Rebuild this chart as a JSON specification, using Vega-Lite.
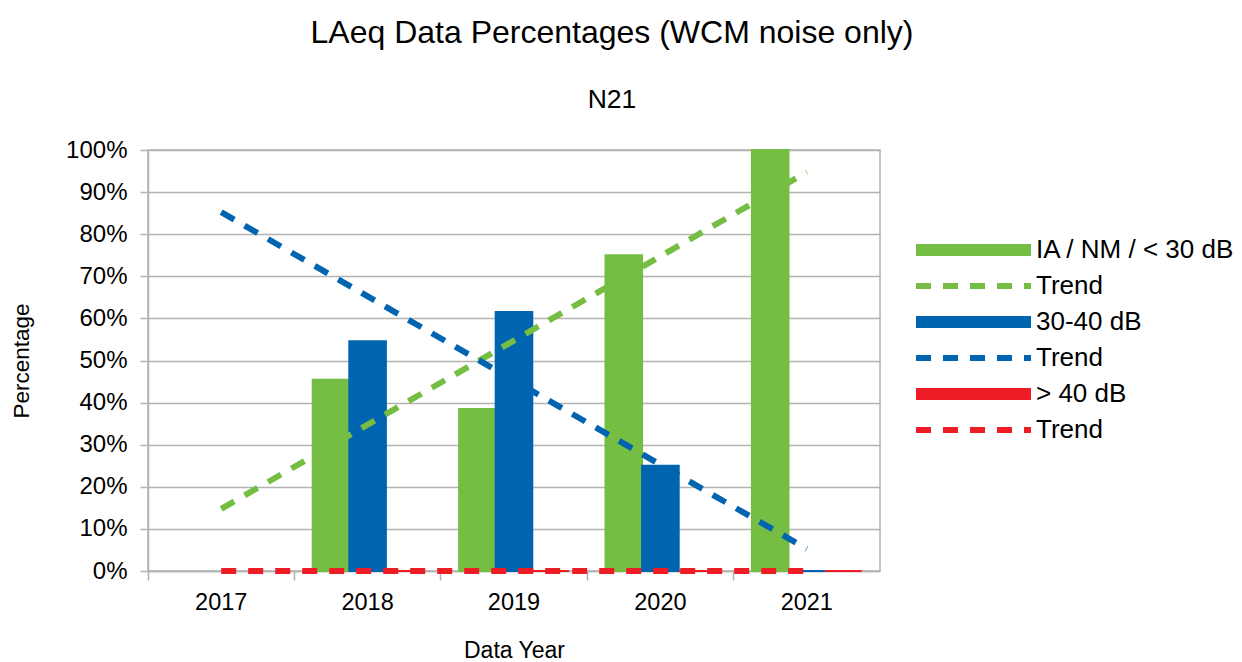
{
  "$schema": "https://vega.github.io/schema/vega-lite/v6.json",
  "width": 732,
  "height": 421,
  "autosize": "none",
  "padding": {"left": 148, "top": 150, "right": 362, "bottom": 91},
  "background": "white",
  "title": {
    "text": "LAeq Data Percentages (WCM noise only)",
    "subtitle": "N21",
    "anchor": "middle",
    "frame": "group",
    "dx": 98,
    "font": "Liberation Sans",
    "fontSize": 32,
    "fontWeight": "normal",
    "color": "#000000",
    "subtitleFont": "Liberation Sans",
    "subtitleFontSize": 26.5,
    "subtitleColor": "#000000",
    "subtitlePadding": 37,
    "offset": 24
  },
  "config": {
    "view": {"stroke": "#b3b3b3", "strokeWidth": 1.5},
    "font": "Liberation Sans",
    "legend": {
      "orient": "none",
      "legendX": 762,
      "legendY": 85,
      "symbolType": "stroke",
      "symbolSize": 13225,
      "symbolStrokeWidth": 9,
      "labelFontSize": 26,
      "labelFont": "Liberation Sans",
      "labelColor": "#000000",
      "labelLimit": 400,
      "clipHeight": 30,
      "rowPadding": 6,
      "labelOffset": -1
    }
  },
  "datasets": {
    "bars": [
      {"year": "2018", "series": "IA / NM / < 30 dB", "value": 45.45},
      {"year": "2018", "series": "30-40 dB", "value": 54.55},
      {"year": "2018", "series": "> 40 dB", "value": 0},
      {"year": "2019", "series": "IA / NM / < 30 dB", "value": 38.46},
      {"year": "2019", "series": "30-40 dB", "value": 61.54},
      {"year": "2019", "series": "> 40 dB", "value": 0},
      {"year": "2020", "series": "IA / NM / < 30 dB", "value": 75},
      {"year": "2020", "series": "30-40 dB", "value": 25},
      {"year": "2020", "series": "> 40 dB", "value": 0},
      {"year": "2021", "series": "IA / NM / < 30 dB", "value": 100},
      {"year": "2021", "series": "30-40 dB", "value": 0},
      {"year": "2021", "series": "> 40 dB", "value": 0}
    ],
    "trends": [
      {"year": "2017", "series": "Trend 1", "value": 14.75},
      {"year": "2021", "series": "Trend 1", "value": 94.75},
      {"year": "2017", "series": "Trend 2", "value": 85.25},
      {"year": "2021", "series": "Trend 2", "value": 5.25},
      {"year": "2017", "series": "Trend 3", "value": 0},
      {"year": "2021", "series": "Trend 3", "value": 0}
    ]
  },
  "encoding": {
    "x": {
      "field": "year",
      "type": "ordinal",
      "scale": {"domain": ["2017", "2018", "2019", "2020", "2021"], "paddingInner": 0, "paddingOuter": 0},
      "axis": {
        "title": "Data Year",
        "labelAngle": 0,
        "bandPosition": 0,
        "labelFontSize": 23.5,
        "labelColor": "#000000",
        "labelPadding": 10,
        "titleFontSize": 23,
        "titleFontWeight": "normal",
        "titleColor": "#000000",
        "titlePadding": 26,
        "domainColor": "#b3b3b3",
        "domainWidth": 1.5,
        "tickColor": "#b3b3b3",
        "tickWidth": 1.5,
        "tickSize": 9,
        "grid": false
      }
    },
    "y": {
      "field": "value",
      "type": "quantitative",
      "scale": {"domain": [0, 100], "nice": false},
      "axis": {
        "title": "Percentage",
        "values": [0, 10, 20, 30, 40, 50, 60, 70, 80, 90, 100],
        "labelExpr": "datum.value + '%'",
        "labelFontSize": 24,
        "labelColor": "#000000",
        "labelPadding": 13,
        "titleFontSize": 22.5,
        "titleFontWeight": "normal",
        "titleColor": "#000000",
        "titlePadding": 32,
        "gridColor": "#b3b3b3",
        "gridWidth": 1.5,
        "domainColor": "#b3b3b3",
        "domainWidth": 1.5,
        "tickColor": "#b3b3b3",
        "tickWidth": 1.5,
        "tickSize": 8
      }
    }
  },
  "layer": [
    {
      "data": {"name": "bars"},
      "mark": {"type": "bar", "strokeWidth": 2},
      "encoding": {
        "xOffset": {
          "field": "series",
          "type": "nominal",
          "scale": {"domain": ["IA / NM / < 30 dB", "30-40 dB", "> 40 dB"], "paddingInner": 0, "paddingOuter": 0.5}
        },
        "color": {
          "field": "series",
          "type": "nominal",
          "scale": {
            "domain": ["IA / NM / < 30 dB", "Trend 1", "30-40 dB", "Trend 2", "> 40 dB", "Trend 3"],
            "range": ["#75bd43", "#75bd43", "#0064b0", "#0064b0", "#ee1c24", "#ee1c24"]
          },
          "legend": {
            "title": null,
            "labelExpr": "indexof(datum.label, 'Trend') == 0 ? 'Trend' : datum.label"
          }
        },
        "stroke": {
          "field": "series",
          "type": "nominal",
          "scale": {
            "domain": ["IA / NM / < 30 dB", "Trend 1", "30-40 dB", "Trend 2", "> 40 dB", "Trend 3"],
            "range": ["#75bd43", "#75bd43", "#0064b0", "#0064b0", "#ee1c24", "#ee1c24"]
          },
          "legend": null
        }
      }
    },
    {
      "data": {"name": "trends"},
      "mark": {"type": "line", "strokeCap": "butt"},
      "encoding": {
        "color": {
          "field": "series",
          "type": "nominal",
          "legend": {
            "title": null,
            "labelExpr": "indexof(datum.label, 'Trend') == 0 ? 'Trend' : datum.label"
          }
        },
        "strokeDash": {
          "field": "series",
          "type": "nominal",
          "scale": {
            "domain": ["IA / NM / < 30 dB", "Trend 1", "30-40 dB", "Trend 2", "> 40 dB", "Trend 3"],
            "range": [[1, 0], [15, 12], [1, 0], [15, 12], [1, 0], [15, 12]]
          },
          "legend": {
            "title": null,
            "labelExpr": "indexof(datum.label, 'Trend') == 0 ? 'Trend' : datum.label"
          }
        },
        "strokeWidth": {
          "field": "series",
          "type": "nominal",
          "scale": {
            "type": "ordinal",
            "domain": ["IA / NM / < 30 dB", "Trend 1", "30-40 dB", "Trend 2", "> 40 dB", "Trend 3"],
            "range": [12, 6, 12, 6, 12, 6]
          },
          "legend": {
            "title": null,
            "labelExpr": "indexof(datum.label, 'Trend') == 0 ? 'Trend' : datum.label"
          }
        }
      }
    }
  ]
}
